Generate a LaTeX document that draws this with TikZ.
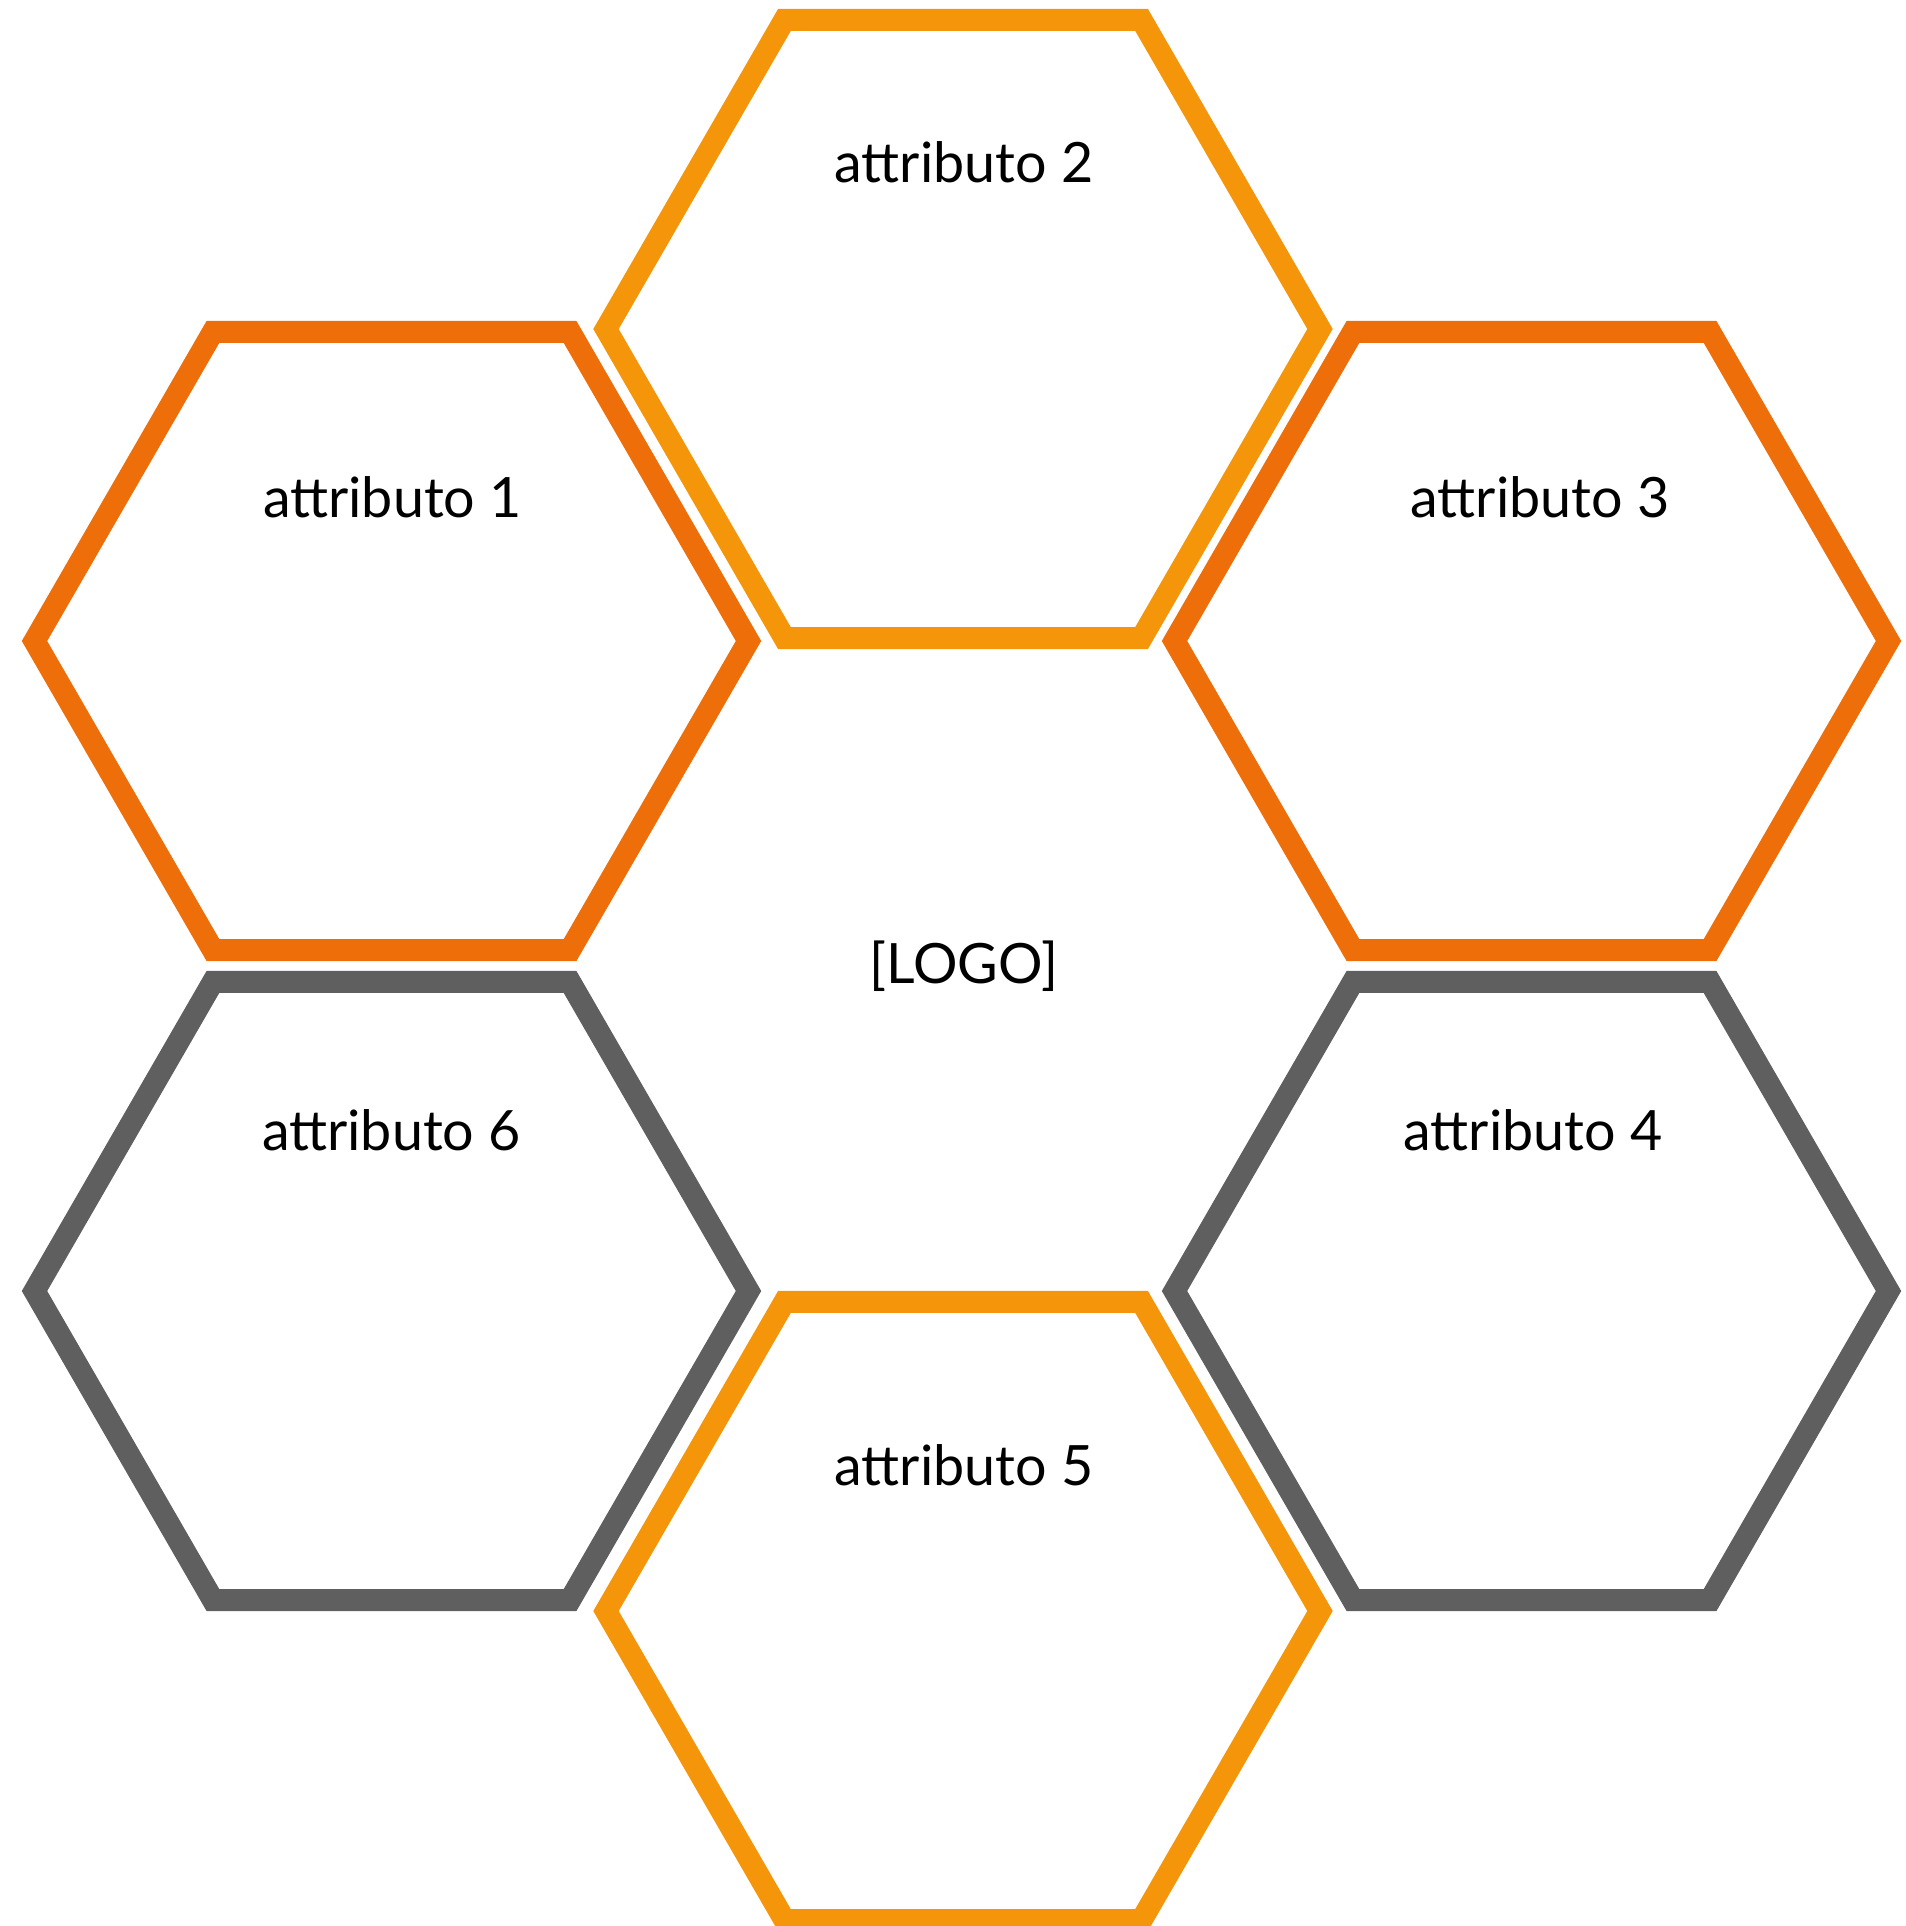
\documentclass[tikz,border=0pt]{standalone}
\usepackage{fontspec}
\setmainfont{Lato}
\usetikzlibrary{shapes.geometric}
\definecolor{darkor}{HTML}{EE6E0A}
\definecolor{lightor}{HTML}{F5960A}
\definecolor{hexgray}{HTML}{5F5F5F}
\tikzset{
  hexnode/.style={regular polygon, regular polygon sides=6, minimum size=714pt,
    inner sep=0pt, outer sep=0pt, line width=22pt, draw=#1},
  attrtext/.style={anchor=base, inner sep=0pt, font=\fontsize{55.6pt}{60pt}\selectfont, text=black}
}
\begin{document}
\begin{tikzpicture}[x=1pt,y=-1pt]
\useasboundingbox (0,0) rectangle (1905,1926);
\node[hexnode=darkor]  (h1) at (391.5,641) {};
\node[hexnode=lightor] (h2) at (963,329) {};
\node[hexnode=darkor]  (h3) at (1531.5,641) {};
\node[hexnode=hexgray] (h4) at (1531.5,1291) {};
\node[hexnode=lightor] (h5) at (963,1611) {};
\node[hexnode=hexgray] (h6) at (391.5,1291) {};
\node[attrtext] (t1) at (392.5,517) {attributo 1};
\node[attrtext] (t2) at (964,183) {attributo 2};
\node[attrtext] (t3) at (1540,517) {attributo 3};
\node[attrtext] (t4) at (1533,1150) {attributo 4};
\node[attrtext] (t5) at (964,1485) {attributo 5};
\node[attrtext] (t6) at (391.5,1150) {attributo 6};
\node[attrtext] (logo) at (964,983) {[LOGO]};
\end{tikzpicture}
\end{document}
